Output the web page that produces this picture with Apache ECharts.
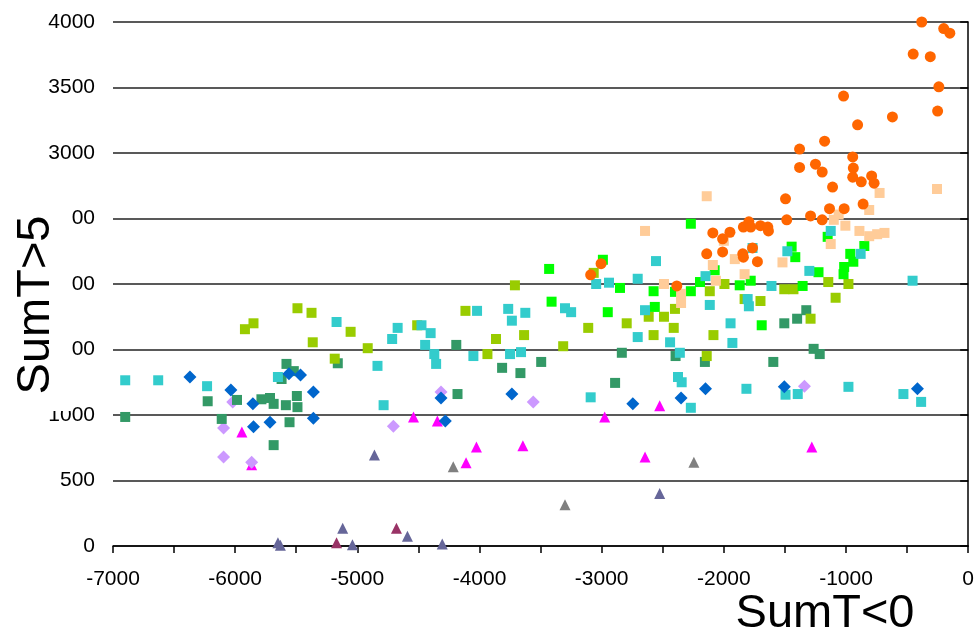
<!DOCTYPE html>
<html>
<head>
<meta charset="utf-8">
<script src="https://cdn.jsdelivr.net/npm/echarts@6/dist/echarts.min.js"></script>
<style>
  html, body { margin: 0; padding: 0; background: #fff; }
  #chart { width: 977px; height: 639px; }
</style>
</head>
<body>
<div id="chart"></div>
<script>
// x = SumT<0, y = SumT>5, one array per marker group
var orangeCircles = [
  [-380, 4000], [-200, 3950], [-150, 3915], [-450, 3755], [-310, 3735], [-240, 3505], [-250, 3320],
  [-620, 3275], [-1020, 3435], [-905, 3215], [-1175, 3090], [-1380, 3030], [-1380, 2890], [-1250, 2915],
  [-1195, 2855], [-945, 2970], [-940, 2885], [-945, 2815], [-875, 2780], [-790, 2825], [-770, 2770],
  [-1110, 2740], [-1495, 2650], [-1135, 2575], [-1015, 2575], [-860, 2610], [-1485, 2490], [-1290, 2520],
  [-1195, 2490], [-1840, 2435], [-1795, 2475], [-1780, 2435], [-1700, 2445], [-1640, 2435], [-1635, 2405],
  [-2090, 2390], [-1950, 2395], [-2010, 2345], [-2140, 2230], [-2010, 2245], [-1845, 2230], [-1840, 2205],
  [-1765, 2275], [-1725, 2170], [-2385, 1985], [-3005, 2155], [-3090, 2070]
];
var peachSquares = [
  [-2140, 2670], [-255, 2725], [-725, 2695], [-810, 2565], [-2645, 2405], [-1060, 2530], [-1100, 2490],
  [-1005, 2445], [-890, 2405], [-810, 2365], [-745, 2380], [-685, 2390], [-1125, 2305], [-1520, 2165],
  [-1910, 2190], [-2090, 2145], [-1830, 2075], [-2065, 2025], [-2490, 2000], [-2350, 1925], [-2350, 1855],
  [-2000, 2330]
];
var greenSquares = [
  [-2270, 2460], [-2990, 2185], [-2850, 1970], [-2575, 1945], [-2400, 1940], [-2270, 1945], [-2195, 2015],
  [-2075, 2105], [-1870, 1990], [-1780, 2025], [-1445, 2285], [-1415, 2205], [-2950, 1785], [-2565, 1825],
  [-1690, 1685], [-1225, 2090], [-1355, 1985], [-1150, 2360], [-965, 2230], [-940, 2170], [-1015, 2130],
  [-1020, 2075], [-850, 2290], [-3430, 2115], [-3410, 1865]
];
var limeSquares = [
  [-5920, 1655], [-5850, 1700], [-5490, 1815], [-5375, 1780], [-5365, 1555], [-5055, 1635], [-5185, 1430],
  [-4915, 1510], [-4510, 1685], [-4115, 1795], [-3710, 1990], [-3865, 1580], [-3935, 1465], [-3635, 1610],
  [-3315, 1525], [-3110, 1665], [-2795, 1700], [-2615, 1750], [-2490, 1750], [-2400, 1810], [-2575, 1610],
  [-2410, 1665], [-2115, 1945], [-1995, 2000], [-1830, 1885], [-1700, 1870], [-2085, 1610], [-2140, 1450],
  [-1505, 1960], [-1430, 1960], [-1145, 2015], [-980, 2000], [-1085, 1895], [-1290, 1735], [-3065, 2085]
];
var cyanSquares = [
  [-6900, 1265], [-6630, 1265], [-6230, 1220], [-5170, 1710], [-5650, 1290], [-4835, 1375], [-4785, 1075],
  [-4715, 1580], [-4670, 1665], [-4475, 1685], [-4400, 1625], [-4445, 1535], [-4370, 1465], [-4355, 1390],
  [-4020, 1795], [-4050, 1450], [-3765, 1810], [-3735, 1720], [-3625, 1780], [-3750, 1465], [-3660, 1480],
  [-3300, 1815], [-3250, 1785], [-3090, 1135], [-3045, 2000], [-2940, 2010], [-2705, 2040], [-2645, 1800],
  [-2705, 1595], [-2555, 2175], [-2440, 1555], [-2360, 1475], [-2375, 1290], [-2345, 1250], [-2150, 2060],
  [-2115, 1840], [-1945, 1700], [-1930, 1550], [-1805, 1885], [-1795, 1830], [-1765, 2275], [-1610, 1985],
  [-1480, 2250], [-1815, 1200], [-1125, 2405], [-1300, 2100], [-880, 2230], [-455, 2025], [-980, 1215],
  [-1495, 1155], [-1395, 1160], [-530, 1160], [-385, 1100], [-2270, 1055]
];
var darkGreenSquares = [
  [-6900, 985], [-6225, 1105], [-6110, 970], [-5985, 1115], [-5785, 1120], [-5715, 1130], [-5685, 1085],
  [-5585, 1075], [-5555, 945], [-5495, 1145], [-5490, 1060], [-5685, 770], [-5580, 1390], [-5520, 1335],
  [-5620, 1275], [-5160, 1395], [-4190, 1535], [-4180, 1160], [-3815, 1360], [-3665, 1320], [-3495, 1405],
  [-2835, 1475], [-2890, 1245], [-2395, 1450], [-2155, 1405], [-1595, 1405], [-1505, 1700], [-1400, 1735],
  [-1325, 1800], [-1265, 1505], [-1215, 1465]
];
var blueDiamonds = [
  [-6370, 1290], [-6035, 1190], [-5855, 1085], [-5850, 910], [-5715, 945], [-5560, 1315], [-5465, 1305],
  [-5360, 1175], [-5360, 975], [-4315, 1130], [-4280, 955], [-3735, 1160], [-2745, 1085], [-2350, 1130],
  [-2150, 1200], [-1505, 1215], [-415, 1200]
];
var lilacDiamonds = [
  [-6020, 1100], [-6095, 900], [-6095, 680], [-5865, 640], [-4705, 915], [-4315, 1175], [-3560, 1100],
  [-1340, 1220]
];
var pinkTriangles = [
  [-5945, 870], [-5865, 620], [-4540, 985], [-4345, 955], [-4025, 755], [-4110, 635], [-3645, 765],
  [-2975, 985], [-2645, 680], [-2525, 1070], [-1280, 755]
];
var greyTriangles = [[-4215, 605], [-3300, 315], [-2245, 640]];
var slateTriangles = [
  [-4860, 695], [-5120, 135], [-5040, 10], [-4590, 75], [-4305, 15], [-5650, 25], [-5630, 5], [-2525, 400]
];
var plumTriangles = [[-5170, 25], [-4680, 135]];

var font = '"Liberation Sans", Arial, sans-serif';

function scatter(data, symbol, size, color) {
  return {
    type: 'scatter',
    data: data,
    symbol: symbol,
    symbolSize: size,
    itemStyle: { color: color, opacity: 1 },
    emphasis: { disabled: true },
    clip: false
  };
}

var myChart = echarts.init(document.getElementById('chart'), null, { renderer: 'canvas' });

myChart.setOption({
  animation: false,
  backgroundColor: '#fff',
  grid: { left: 113, right: 6, top: 22, bottom: 93 },
  xAxis: {
    type: 'value',
    min: -7000,
    max: 0,
    interval: 500,
    axisLine: { onZero: false, lineStyle: { color: '#000', width: 1.5 } },
    axisTick: { length: 7, lineStyle: { color: '#000', width: 1.5 } },
    axisLabel: {
      margin: 23,
      color: '#000',
      fontSize: 21,
      fontFamily: font,
      formatter: function (v) { return v % 1000 === 0 ? String(v) : ''; }
    },
    splitLine: { show: false }
  },
  yAxis: {
    type: 'value',
    min: 0,
    max: 4000,
    interval: 500,
    axisLine: { show: true, lineStyle: { color: '#000', width: 1.5 } },
    axisTick: { show: true, length: 8, lineStyle: { color: '#000', width: 1.5 } },
    axisLabel: {
      margin: 18, color: '#000', fontSize: 21, fontFamily: font,
      formatter: function (v) { return String(v); }
    },
    splitLine: { show: true, lineStyle: { color: '#222', width: 1.5 } }
  },
  graphic: [
    { type: 'rect', z: 100, shape: { x: 6, y: 205, width: 66, height: 206 }, style: { fill: '#fff' } },
    {
      type: 'text', z: 101, x: 36, y: 305, rotation: Math.PI / 2,
      style: {
        text: 'SumT>5', font: '47px ' + font, fill: '#000',
        align: 'center', verticalAlign: 'middle', textAlign: 'center', textVerticalAlign: 'middle'
      }
    },
    {
      type: 'text', z: 101, x: 825, y: 614,
      style: {
        text: 'SumT<0', font: '47px ' + font, fill: '#000',
        align: 'center', verticalAlign: 'middle', textAlign: 'center', textVerticalAlign: 'middle'
      }
    }
  ],
  series: [
    scatter(greyTriangles, 'triangle', 11, '#808080'),
    scatter(slateTriangles, 'triangle', 11, '#666699'),
    scatter(plumTriangles, 'triangle', 11, '#993366'),
    scatter(pinkTriangles, 'triangle', 11, '#FF00FF'),
    scatter(lilacDiamonds, 'diamond', 13, '#CC99FF'),
    scatter(darkGreenSquares, 'rect', 10, '#339966'),
    scatter(limeSquares, 'rect', 10, '#99CC00'),
    scatter(greenSquares, 'rect', 10, '#00FF00'),
    scatter(peachSquares, 'rect', 10, '#FFCC99'),
    scatter(cyanSquares, 'rect', 10, '#33CCCC'),
    scatter(blueDiamonds, 'diamond', 13, '#0066CC'),
    scatter(orangeCircles, 'circle', 11, '#FF6600')
  ]
});
</script>
</body>
</html>
